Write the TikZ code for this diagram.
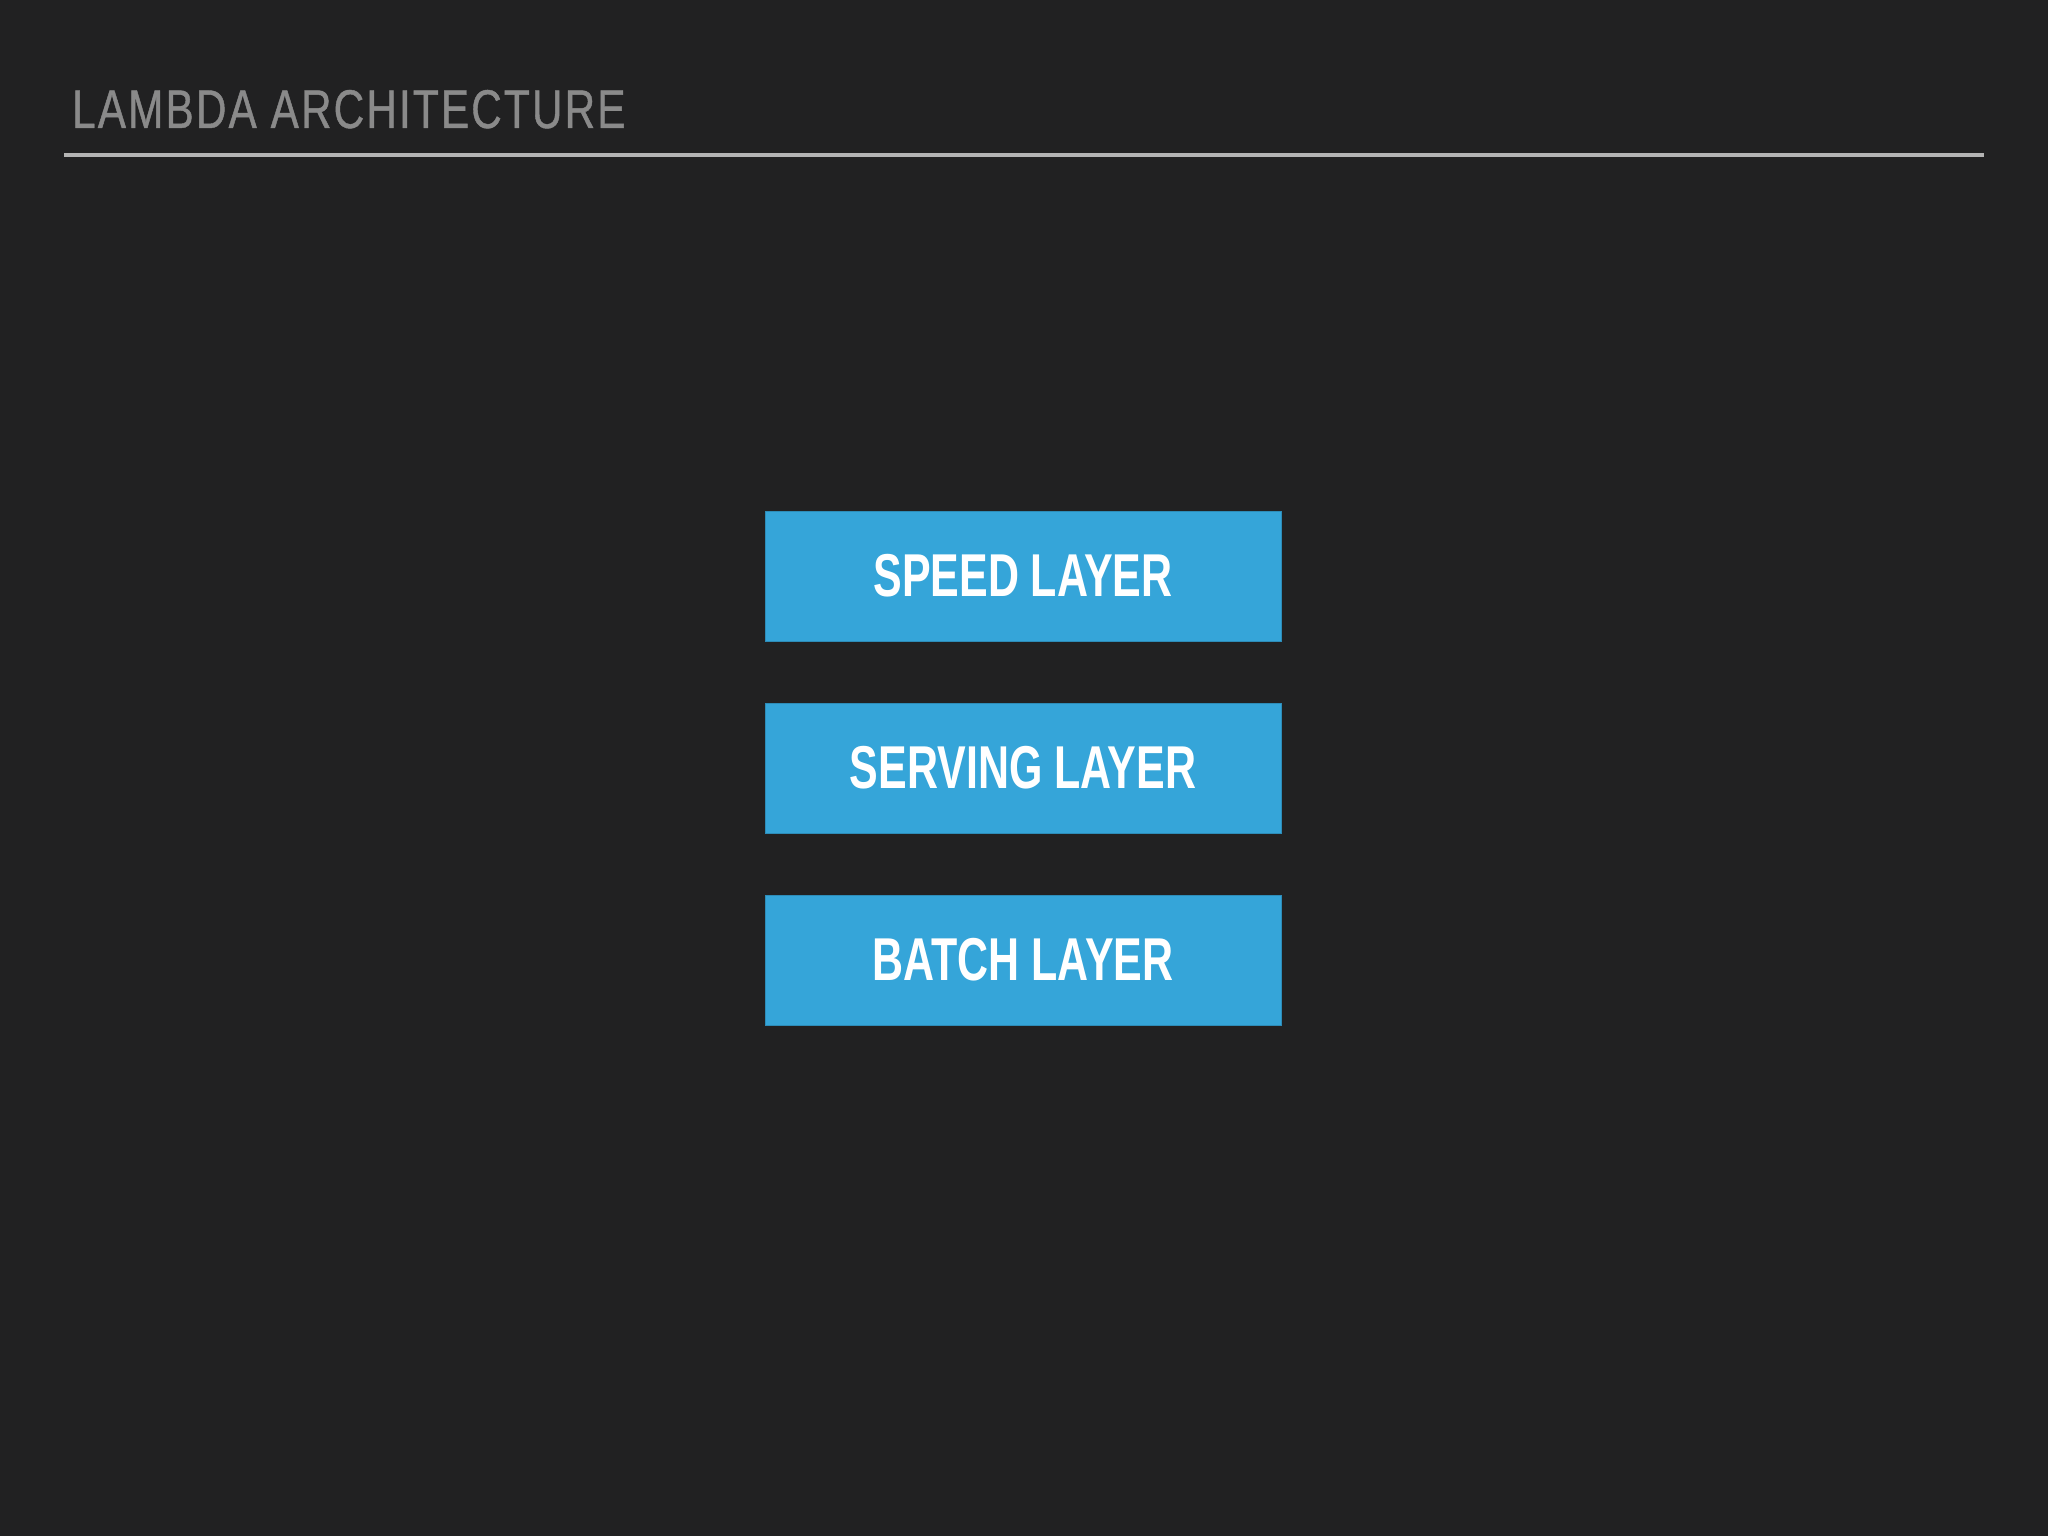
\documentclass[tikz,border=0pt]{standalone}
\usepackage{fontspec}
\newfontfamily\titlefont[FakeStretch=0.775,FakeBold=0.8,LetterSpace=4]{Liberation Sans}
\newfontfamily\boxfont[FakeStretch=0.71]{Liberation Sans}
\definecolor{bg}{HTML}{212122}
\definecolor{boxblue}{HTML}{35A5D9}
\definecolor{titlegray}{HTML}{8A8A8A}
\definecolor{rulegray}{HTML}{B4B4B4}
\tikzset{
  layerbox/.style={rectangle, fill=boxblue, draw=boxblue!85!black, line width=1pt,
    minimum width=516pt, minimum height=130pt, inner sep=0pt,
    text=white, font=\boxfont\bfseries\fontsize{60.5}{60.5}\selectfont},
  titletext/.style={anchor=base west, inner sep=0pt, text=titlegray,
    font=\titlefont\fontsize{54.5}{54.5}\selectfont}
}
\begin{document}
\begin{tikzpicture}[x=1pt,y=-1pt]
\fill[bg] (0,0) rectangle (2048,1536);
\useasboundingbox (0,0) rectangle (2048,1536);
\node[titletext] (title) at (72,128) {LAMBDA ARCHITECTURE};
\coordinate (ruleL) at (64,155);
\coordinate (ruleR) at (1984,155);
\draw[rulegray, line width=3.5pt] (ruleL) -- (ruleR);
\node[layerbox] (speed) at (1023,576) {SPEED LAYER};
\node[layerbox] (serving) at (1023,768) {SERVING LAYER};
\node[layerbox] (batch) at (1023,960) {BATCH LAYER};
\end{tikzpicture}
\end{document}
